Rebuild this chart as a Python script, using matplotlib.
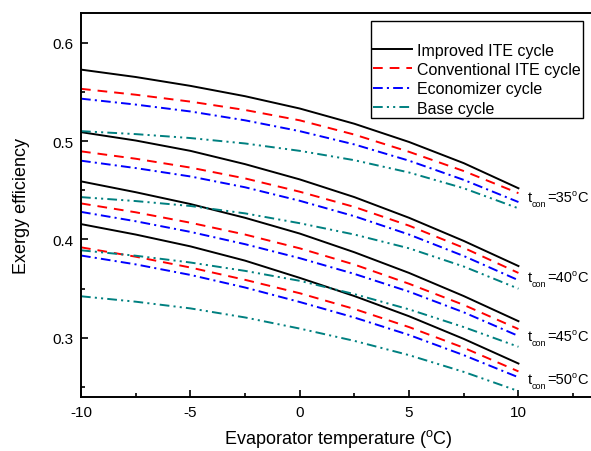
import numpy as np
import matplotlib
matplotlib.use('Agg')
import matplotlib.pyplot as plt

plt.rcParams['font.family'] = ['Liberation Sans', 'DejaVu Sans']
plt.rcParams['font.size'] = 11
plt.rcParams['lines.scale_dashes'] = False
plt.rcParams['axes.unicode_minus'] = False

# evaporator temperature (C)
t_evap = [-10, -7.5, -5, -2.5, 0, 2.5, 5, 7.5, 10]
t_con = [35, 40, 45, 50]

# exergy efficiency, one row per condensing temperature (35, 40, 45, 50 C)
improved = [
    [0.5725, 0.565, 0.556, 0.5455, 0.533, 0.5175, 0.499, 0.4775, 0.452],
    [0.509, 0.5005, 0.490, 0.4765, 0.461, 0.443, 0.422, 0.3985, 0.373],
    [0.459, 0.448, 0.436, 0.422, 0.406, 0.387, 0.366, 0.3425, 0.317],
    [0.4156, 0.405, 0.393, 0.3785, 0.361, 0.3425, 0.322, 0.299, 0.274],
]
conventional = [
    [0.553, 0.547, 0.540, 0.5315, 0.521, 0.5065, 0.489, 0.4695, 0.447],
    [0.4895, 0.482, 0.473, 0.462, 0.4485, 0.433, 0.414, 0.3915, 0.366],
    [0.4366, 0.4276, 0.417, 0.405, 0.391, 0.3745, 0.355, 0.3335, 0.309],
    [0.392, 0.3825, 0.3715, 0.359, 0.3454, 0.3294, 0.311, 0.290, 0.266],
]
economizer = [
    [0.543, 0.537, 0.530, 0.521, 0.510, 0.4965, 0.480, 0.4605, 0.438],
    [0.480, 0.4725, 0.464, 0.453, 0.4393, 0.4236, 0.405, 0.3832, 0.3586],
    [0.428, 0.4185, 0.4077, 0.3952, 0.381, 0.365, 0.347, 0.326, 0.302],
    [0.3837, 0.3747, 0.364, 0.3512, 0.3365, 0.3207, 0.303, 0.2825, 0.260],
]
base = [
    [0.510, 0.507, 0.503, 0.4975, 0.490, 0.4805, 0.468, 0.452, 0.4316],
    [0.443, 0.439, 0.434, 0.4265, 0.4165, 0.405, 0.391, 0.3725, 0.350],
    [0.389, 0.3835, 0.3766, 0.3681, 0.358, 0.3445, 0.329, 0.311, 0.291],
    [0.3423, 0.3368, 0.330, 0.3208, 0.3095, 0.297, 0.2825, 0.2655, 0.246],
]

labels = ['Improved ITE cycle', 'Conventional ITE cycle', 'Economizer cycle', 'Base cycle']
label_y = [0.443, 0.3617, 0.3016, 0.2579]

fig = plt.figure(figsize=(5.91, 4.52), dpi=100)
ax = fig.add_axes([81/591, 1-398/452, 514/591, 384/452])

styles = [
    dict(color='black', linestyle='-'),
    dict(color='#ff0000', linestyle=(0, (7, 5))),
    dict(color='#0000ff', linestyle=(0, (7, 3, 1.5, 3))),
    dict(color='#008080', linestyle=(0, (7, 3, 1.5, 3, 1.5, 3))),
]
series = [improved, conventional, economizer, base]

for s, st, lab in zip(series, styles, labels):
    for i, row in enumerate(s):
        ax.plot(t_evap, row, lw=1.4, label=lab if i == 0 else None, **st)

# "t_con=35 oC" labels built from pieces so the subscript can be small
fs_main, fs_small = 10.5, 6.5
for tc, yl in zip(t_con, label_y):
    t1 = ax.text(10.42, yl, 't', fontsize=fs_main, va='center', ha='left')
    s1 = ax.annotate('con', xy=(1, 0), xycoords=t1, xytext=(0.2, -1.0),
                     textcoords='offset points', fontsize=fs_small,
                     va='baseline', ha='left')
    e1 = ax.annotate('=%d' % tc, xy=(1, 0), xycoords=(s1, t1), xytext=(0.2, 0),
                     textcoords='offset points', fontsize=fs_main,
                     va='bottom', ha='left')
    o1 = ax.annotate('o', xy=(1, 1), xycoords=e1, xytext=(0.2, 1.5),
                     textcoords='offset points', fontsize=fs_small,
                     va='top', ha='left')
    ax.annotate('C', xy=(1, 0), xycoords=(o1, e1), xytext=(0, 0),
                textcoords='offset points', fontsize=fs_main,
                va='bottom', ha='left')

ax.set_xlim(-10, 13.5)
ax.set_ylim(0.24, 0.63)
ax.set_xticks([-10, -5, 0, 5, 10])
ax.set_xticks(np.arange(-7.5, 13.5, 5), minor=True)
ax.set_yticks([0.3, 0.4, 0.5, 0.6])
ax.set_yticks([0.25, 0.35, 0.45, 0.55], minor=True)
ax.set_yticklabels(['0.3', '0.4', '0.5', '0.6'])
ax.tick_params(which='major', direction='in', length=5, width=1.2, pad=5.5, labelsize=11)
ax.tick_params(which='minor', direction='in', length=3, width=1.2)
for sp in ax.spines.values():
    sp.set_linewidth(1.4)

ax.set_xlabel('Evaporator temperature ($^\\mathregular{o}$C)', fontsize=13, labelpad=6)
ax.set_ylabel('Exergy efficiency', fontsize=13, labelpad=16)

leg = ax.legend(loc='upper left', bbox_to_anchor=(371/591, 1-22/452),
                bbox_transform=fig.transFigure, borderaxespad=0,
                title=' ', title_fontsize=11.5, fancybox=False, shadow=False,
                framealpha=1, edgecolor='black', handlelength=2.4,
                handletextpad=0.3, labelspacing=0.27, borderpad=0.15,
                fontsize=11.5)
leg.get_frame().set_linewidth(1.0)

fig.savefig('out.png', dpi=100)
